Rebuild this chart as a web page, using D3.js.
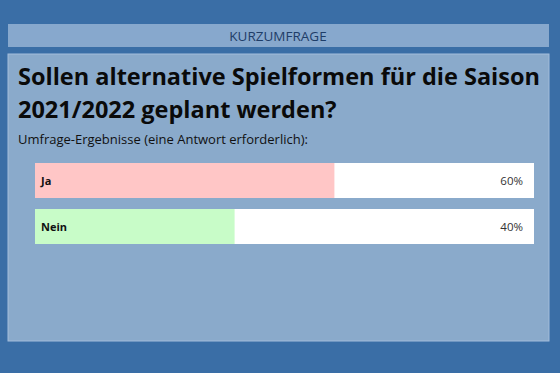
<!DOCTYPE html>
<html>
<head>
<meta charset="utf-8">
<script src="https://cdn.jsdelivr.net/npm/d3@7"></script>
<style>
  body { margin: 0; background: #3a6ea6; }
  svg { display: block; font-family: "Open Sans", "Noto Sans", sans-serif; }
</style>
</head>
<body>
<svg id="chart" width="560" height="373"></svg>
<script>
"use strict";

// poll data
var answers = ["Ja", "Nein"];
var percents = [60, 40];
var fills = ["#ffc6c6", "#c8fcc8"];

var headerText = "KURZUMFRAGE";
var titleLines = ["Sollen alternative Spielformen für die Saison", "2021/2022 geplant werden?"];
var subtitle = "Umfrage-Ergebnisse (eine Antwort erforderlich):";

var svg = d3.select("#chart");

// background
svg.append("rect").attr("width", 560).attr("height", 373).attr("fill", "#3a6ea6");

// header bar
svg.append("rect")
  .attr("x", 8).attr("y", 24).attr("width", 541).attr("height", 23)
  .attr("fill", "#87a8cd");
svg.append("text")
  .attr("x", 278).attr("y", 40.5)
  .attr("text-anchor", "middle")
  .attr("font-size", "13.5px")
  .attr("fill", "#1e3d68")
  .text(headerText);

// main panel
svg.append("rect")
  .attr("x", 8).attr("y", 54).attr("width", 541).attr("height", 287)
  .attr("fill", "#8aaacb")
  .attr("stroke", "#a3bddb").attr("stroke-width", 1);

// title
svg.selectAll("text.title")
  .data(titleLines)
  .enter()
  .append("text")
  .attr("class", "title")
  .attr("x", 18)
  .attr("y", function(d, i) { return 85 + i * 33; })
  .attr("font-size", "23.5px")
  .attr("font-weight", "bold")
  .attr("fill", "#0a0a0a")
  .text(function(d) { return d; });

svg.append("text")
  .attr("x", 18).attr("y", 144)
  .attr("font-size", "13px")
  .attr("fill", "#111")
  .text(subtitle);

// scales
var x = d3.scaleLinear().domain([0, 100]).range([35, 534]);
var y = d3.scaleBand().domain(answers).range([163, 244]).paddingInner(11 / 46).paddingOuter(0);

var rows = svg.selectAll("g.row")
  .data(answers)
  .enter()
  .append("g")
  .attr("class", "row")
  .attr("transform", function(d) { return "translate(0," + y(d) + ")"; });

// white track
rows.append("rect")
  .attr("x", x(0)).attr("width", x(100) - x(0))
  .attr("height", y.bandwidth())
  .attr("fill", "#ffffff");

// value bar
rows.append("rect")
  .attr("x", x(0))
  .attr("width", function(d, i) { return x(percents[i]) - x(0); })
  .attr("height", y.bandwidth())
  .attr("fill", function(d, i) { return fills[i]; });

// answer label
rows.append("text")
  .attr("x", x(0) + 6)
  .attr("y", y.bandwidth() / 2 + 4)
  .attr("font-size", "11px")
  .attr("font-weight", "bold")
  .attr("fill", "#111")
  .text(function(d) { return d; });

// percent label
rows.append("text")
  .attr("x", x(100) - 11)
  .attr("y", y.bandwidth() / 2 + 4)
  .attr("text-anchor", "end")
  .attr("font-size", "11.5px")
  .attr("fill", "#333")
  .text(function(d, i) { return percents[i] + "%"; });
</script>
</body>
</html>
